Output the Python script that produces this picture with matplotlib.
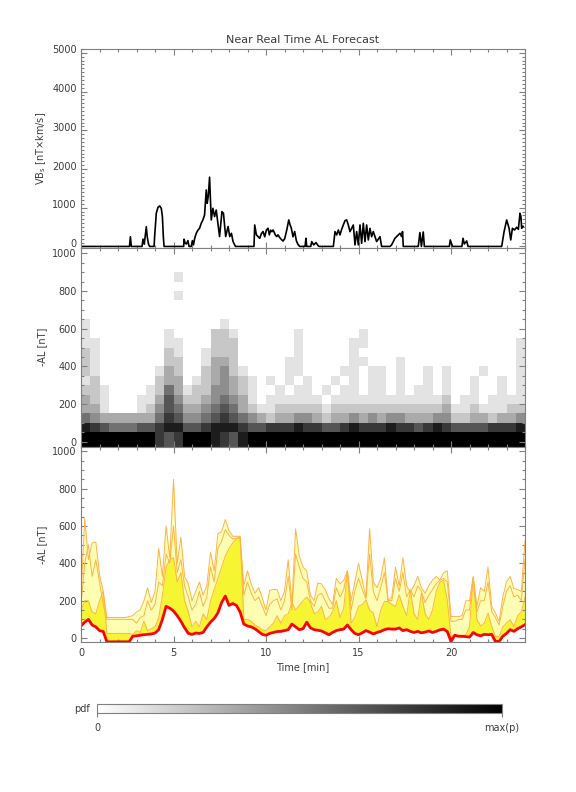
import numpy as np
import matplotlib
matplotlib.use("Agg")
import matplotlib.pyplot as plt
import matplotlib.transforms as mtransforms
from matplotlib.ticker import MultipleLocator

# ---- panel 1: solar wind driver VBs [nT x km/s] ----
t_vbs = [0.0, 2.62, 2.67, 2.72,
         3.30, 3.35, 3.42, 3.53, 3.58, 3.65, 3.71,
         3.95, 3.98, 4.07, 4.16, 4.25, 4.34, 4.40, 4.45, 4.49,
         5.55, 5.57, 5.63, 5.70, 5.78, 5.84,
         5.96, 6.02, 6.08, 6.14, 6.23, 6.32, 6.41, 6.50, 6.59, 6.68, 6.77, 6.82, 6.88, 6.95,
         7.04, 7.13, 7.22, 7.31, 7.40, 7.49, 7.62, 7.70, 7.82, 7.95, 8.04, 8.13, 8.22, 8.35,
         9.35, 9.39, 9.48, 9.57, 9.66, 9.75, 9.84, 9.93,
         10.02, 10.11, 10.18, 10.25, 10.32, 10.38, 10.45, 10.50, 10.58, 10.65, 10.74, 10.83, 10.92,
         11.01, 11.12, 11.23, 11.30, 11.37, 11.46, 11.55, 11.64, 11.72, 11.82,
         12.11, 12.16, 12.20, 12.42, 12.47, 12.58, 12.70, 12.83, 12.88,
         13.64, 13.73, 13.82, 13.91, 14.00, 14.09, 14.18, 14.27, 14.36, 14.45, 14.54, 14.63, 14.72, 14.81,
         14.90, 14.99, 15.08, 15.17, 15.26, 15.35, 15.44, 15.53, 15.62, 15.71, 15.80, 15.98, 16.16, 16.25,
         16.70, 16.79, 16.97, 17.15, 17.24, 17.33, 17.38, 17.42,
         18.23, 18.32, 18.40, 18.50, 18.56,
         19.91, 19.96, 20.03, 20.08,
         20.59, 20.65, 20.72, 20.85, 20.92,
         22.74, 22.87, 23.01, 23.14, 23.23, 23.32, 23.43, 23.55, 23.64, 23.73, 23.78, 23.82, 23.90]
vbs = [0, 0, 250, 0,
       0, 190, 60, 510, 250, 60, 0,
       0, 255, 860, 1010, 1046, 985, 770, 255, 0,
       0, 186, 83, 65, 150, 0,
       0, 150, 40, 200, 340, 420, 470, 600, 685, 815, 1460, 1115, 1300, 1790,
       685, 985, 770, 940, 600, 255, 900, 855, 255, 515, 255, 340, 125, 0,
       0, 555, 300, 255, 210, 330, 385, 250,
       420, 470, 300, 420, 380, 425, 360, 300, 255, 300, 230, 180, 140,
       200, 420, 685, 560, 470, 250, 385, 150, 60, 0,
       0, 211, 0, 0, 125, 40, 100, 13, 0,
       0, 383, 297, 426, 297, 443, 555, 667, 685, 555, 383, 469, 555, 40,
       383, 40, 555, 83, 598, 125, 555, 168, 469, 254, 383, 125, 254, 0,
       0, 40, 211, 297, 340, 254, 383, 0,
       0, 357, 0, 374, 0,
       0, 168, 65, 0,
       0, 211, 65, 142, 0,
       0, 383, 685, 469, 168, 469, 426, 495, 443, 857, 771, 469, 520]

# ---- panel 3: forecast -AL quantiles [nT], 0.2 min steps ----
t_al = np.arange(121) * 0.2
al_med = [65, 85, 100, 70, 60, 40, 35, -20, -20, -20,
          -20, -20, -20, -20, 10, 12, 15, 18, 20, 22,
          27, 45, 100, 170, 160, 145, 120, 90, 55, 25,
          20, 27, 25, 30, 60, 85, 105, 135, 190, 225,
          175, 185, 175, 140, 75, 65, 60, 50, 35, 20,
          15, 25, 30, 35, 36, 40, 45, 75, 60, 45,
          50, 85, 55, 45, 42, 38, 28, 18, 30, 40,
          45, 48, 70, 45, 25, 18, 28, 40, 32, 22,
          30, 36, 45, 50, 48, 48, 54, 40, 45, 36,
          30, 36, 28, 32, 38, 30, 36, 44, 48, 35,
          -18, 15, 10, 9, 8, 5, 30, 18, 12, 20,
          18, 20, -18, -18, 10, 25, 45, 36, 50, 60,
          72]
al_q75 = [150, 200, 200, 140, 130, 200, 250, 25, 25, 25,
          25, 25, 25, 25, 20, 40, 30, 90, 40, 50,
          60, 110, 230, 380, 420, 430, 300, 350, 200, 140,
          60, 90, 60, 130, 100, 200, 260, 320, 380, 440,
          480, 510, 530, 540, 100, 100, 90, 70, 60, 45,
          40, 60, 80, 120, 80, 120, 130, 190, 150, 175,
          200, 220, 190, 130, 140, 170, 100, 110, 140, 200,
          110, 160, 357, 80, 110, 170, 180, 205, 150, 135,
          60, 150, 196, 196, 180, 170, 232, 170, 120, 259,
          130, 100, 241, 130, 100, 150, 250, 300, 310, 200,
          10, 15, 15, 15, 18, 60, 320, 100, 65, 80,
          134, 62, 9, 9, 60, 80, 98, 62, 120, 140,
          220]
al_q90 = [180, 400, 500, 330, 420, 300, 180, 100, 100, 100,
          100, 100, 100, 100, 100, 80, 110, 120, 200, 150,
          180, 300, 280, 450, 400, 600, 350, 420, 280, 220,
          150, 180, 250, 170, 220, 380, 300, 480, 520, 580,
          550, 530, 535, 540, 230, 300, 240, 200, 220, 170,
          120, 180, 200, 210, 150, 200, 330, 150, 450, 380,
          320, 300, 200, 170, 230, 240, 200, 160, 160, 270,
          220, 260, 360, 150, 250, 320, 260, 210, 450, 250,
          200, 270, 350, 200, 200, 320, 250, 350, 220, 260,
          220, 280, 250, 190, 230, 260, 290, 310, 320, 300,
          90, 90, 100, 100, 150, 150, 325, 140, 200, 200,
          300, 140, 110, 70, 170, 250, 280, 220, 230, 200,
          420]
al_q95 = [220, 640, 420, 510, 515, 340, 250, 110, 110, 110,
          110, 110, 110, 115, 120, 140, 150, 200, 270, 190,
          250, 480, 330, 600, 430, 850, 400, 540, 330, 290,
          200, 250, 300, 230, 280, 460, 360, 560, 570, 635,
          575, 545, 545, 545, 280, 360, 290, 240, 270, 215,
          150, 255, 260, 260, 200, 250, 420, 180, 585, 440,
          380, 360, 230, 200, 295, 290, 260, 210, 180, 320,
          290, 310, 360, 200, 300, 400, 310, 220, 585, 300,
          270, 320, 430, 200, 220, 380, 280, 430, 280, 245,
          280, 330, 270, 240, 280, 310, 330, 310, 350, 360,
          115, 115, 115, 120, 200, 200, 330, 170, 270, 250,
          380, 170, 135, 90, 220, 300, 330, 265, 260, 250,
          520]

# ---- panel 2: forecast pdf, 0.5 min x 50 nT cells (0 = empty, 9 = max) ----
# first string is the lowest -AL bin
pdf_rows = [
    "99999999" "76799987" "68999999" "99999999" "99999999" "99999999",
    "87655566" "78866788" "87667778" "77667877" "78776787" "66667778",
    "54333333" "57644567" "65432334" "43233434" "34433344" "22332334",
    "33100012" "46533456" "53211222" "22122222" "22222223" "11211122",
    "32100011" "36422345" "43101111" "11011111" "11111112" "01101111",
    "22100001" "25312244" "32100101" "10101101" "10101101" "00100101",
    "12000000" "23301234" "32101010" "10010101" "10100101" "00100101",
    "21000000" "13200234" "21000011" "00001101" "10100101" "00010001",
    "21000000" "02200133" "20000011" "00000110" "00100000" "00000001",
    "21000000" "02100122" "20000001" "00000100" "00000000" "00000001",
    "11000000" "01100022" "20000001" "00000110" "00000000" "00000001",
    "10000000" "01000022" "10000001" "00000010" "00000000" "00000000",
    "10000000" "00000001" "00000000" "00000000" "00000000" "00000000",
    "00000000" "00000000" "00000000" "00000000" "00000000" "00000000",
    "00000000" "00000000" "00000000" "00000000" "00000000" "00000000",
    "00000000" "00100000" "00000000" "00000000" "00000000" "00000000",
    "00000000" "00000000" "00000000" "00000000" "00000000" "00000000",
    "00000000" "00100000" "00000000" "00000000" "00000000" "00000000",
    "00000000" "00000000" "00000000" "00000000" "00000000" "00000000",
    "00000000" "00000000" "00000000" "00000000" "00000000" "00000000",
]
pdf_t = np.arange(0, 24.01, 0.5)
pdf_al = np.r_[-30, np.arange(50, 1001, 50)]
pdf = np.array([[int(c) for c in row] for row in pdf_rows])

TXT = "#3c3c3c"
AXC = "#808080"
plt.rcParams["font.family"] = ["DejaVu Sans"]

W, H = 576, 792
fig = plt.figure(figsize=(W / 100, H / 100), dpi=100)


def box(x0, y0, x1, y1):
    # pixel box (top-left origin) -> figure fraction rect
    return [x0 / W, 1 - y1 / H, (x1 - x0) / W, (y1 - y0) / H]


ax1 = fig.add_axes(box(81, 49, 525, 248))
ax2 = fig.add_axes(box(81, 248, 525, 447))
ax3 = fig.add_axes(box(81, 447, 525, 642))
cax = fig.add_axes(box(97, 704, 502, 713))

# panel 1
ax1.plot(t_vbs, vbs, color="black", lw=1.2)
ax1.set_ylim(-40, 5100)
ax1.yaxis.set_major_locator(MultipleLocator(1000))
ax1.yaxis.set_minor_locator(MultipleLocator(100))

# panel 2
mesh = ax2.pcolormesh(pdf_t, pdf_al, pdf, cmap="gray_r", vmin=0, vmax=9)
ax2.set_ylim(-28, 1028)

# panel 3
ax3.fill_between(t_al, al_med, al_q95, color="#FFFFB4", lw=0)
ax3.fill_between(t_al, al_med, al_q75, color="#F5F532", lw=0)
for q in (al_q75, al_q90, al_q95):
    ax3.plot(t_al, q, color="#FFB347", lw=0.7)
ax3.plot(t_al, al_med, color="#FF0000", lw=2)
ax3.set_ylim(-21, 1023)

for ax in (ax2, ax3):
    ax.yaxis.set_major_locator(MultipleLocator(200))
    ax.yaxis.set_minor_locator(MultipleLocator(50))

for ax in (ax1, ax2, ax3):
    ax.set_xlim(0, 24)
    ax.xaxis.set_major_locator(MultipleLocator(5))
    ax.xaxis.set_minor_locator(MultipleLocator(1))
    ax.tick_params(which="both", direction="in", top=True, right=True,
                   color=AXC, width=0.8, labelcolor=TXT, labelsize=7)
    ax.tick_params(which="major", length=4.5)
    ax.tick_params(which="minor", length=2.2)
    ax.tick_params(axis="y", pad=3)
    ax.tick_params(axis="x", pad=4)
    for s in ax.spines.values():
        s.set_color(AXC)
        s.set_linewidth(0.8)
ax1.tick_params(labelbottom=False)
ax2.tick_params(labelbottom=False)

# lift the top panel's y labels a little so its "0" clears the "1000" below
lift = mtransforms.ScaledTranslation(0, 2.5 / 72, fig.dpi_scale_trans)
for lab in ax1.get_yticklabels():
    lab.set_transform(lab.get_transform() + lift)

fig.text(303 / W, 1 - 40 / H, "Near Real Time AL Forecast", ha="center", va="center",
         fontsize=8, color=TXT)
fig.text(41 / W, 1 - 148 / H, "VB$_\\mathregular{s}$ [nT×km/s]", rotation=90,
         ha="center", va="center", fontsize=7, color=TXT)
fig.text(42 / W, 1 - 347 / H, "-AL [nT]", rotation=90, ha="center", va="center",
         fontsize=7, color=TXT)
fig.text(42 / W, 1 - 545 / H, "-AL [nT]", rotation=90, ha="center", va="center",
         fontsize=7, color=TXT)
fig.text(303 / W, 1 - 667 / H, "Time [min]", ha="center", va="center", fontsize=7, color=TXT)

# pdf colour bar
cb = fig.colorbar(mesh, cax=cax, orientation="horizontal")
cb.set_ticks([0, 9])
cb.set_ticklabels(["0", "max(p)"])
cax.tick_params(length=3, width=0.8, color=AXC, labelcolor=TXT, labelsize=7, pad=4)
cb.outline.set_edgecolor(AXC)
cb.outline.set_linewidth(0.8)
fig.text(90 / W, 1 - 709 / H, "pdf", ha="right", va="center", fontsize=7, color=TXT)

fig.savefig("out.png", dpi=100)
